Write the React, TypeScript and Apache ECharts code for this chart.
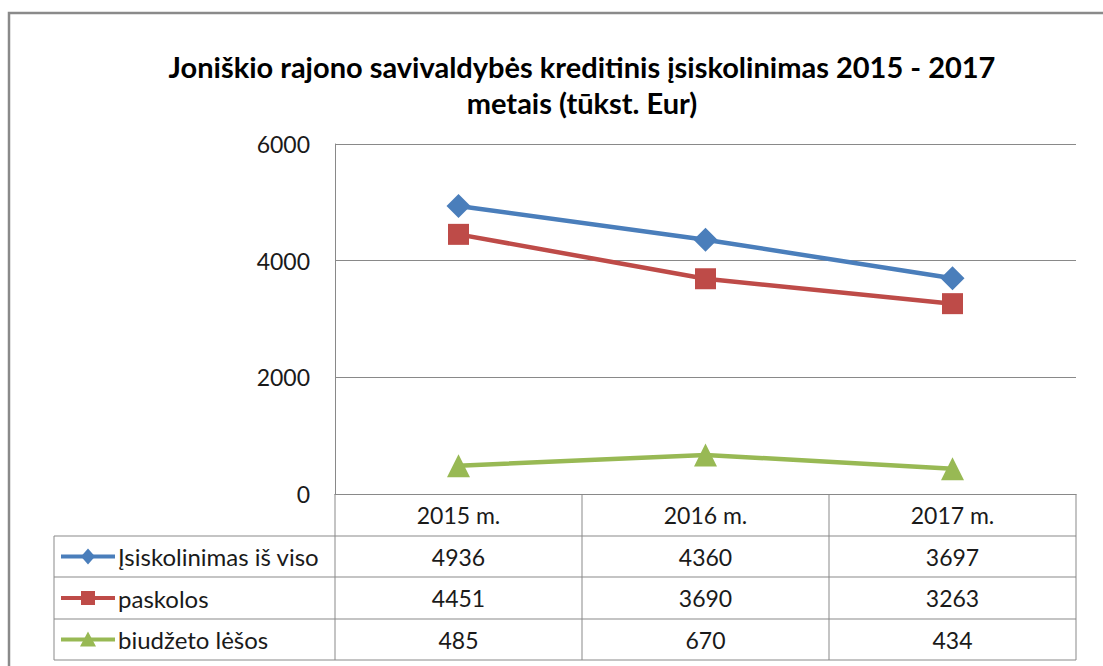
import React, { useEffect, useRef } from "react";
import * as echarts from "echarts";

const categories = ["2015 m.", "2016 m.", "2017 m."];
const seriesNames = ["Įsiskolinimas iš viso", "paskolos", "biudžeto lėšos"];
const totalDebt = [4936, 4360, 3697];
const loans = [4451, 3690, 3263];
const budgetFunds = [485, 670, 434];
const seriesValues = [totalDebt, loans, budgetFunds];
const seriesColors = ["#4A7EBB", "#BE4B48", "#98B954"];
const seriesSymbols = ["diamond", "rect", "triangle"];
const symbolSizes = [24, 21, 23];
const titleLines = [
  "Joniškio rajono savivaldybės kreditinis įsiskolinimas 2015 - 2017",
  "metais (tūkst. Eur)",
];

const W = 1103;
const H = 666;
const GRID_L = 335;
const GRID_R = 1076;
const GRID_T = 144;
const GRID_B = 494;
const TABLE_L = 54;
const ROW_Y = [494, 536, 577, 619, 660];
const FONT = "Lato, 'Noto Sans', sans-serif";
const GRAY = "#898989";
const TEXT_SIZE = 23;

export default function App() {
  const ref = useRef<HTMLDivElement>(null);
  useEffect(() => {
    if (!ref.current) return;
    const chart = echarts.init(ref.current, null, { renderer: "svg" });
    const colW = (GRID_R - GRID_L) / categories.length;
    const graphics: any[] = [];
    graphics.push({
      type: "rect",
      shape: { x: 9, y: 13, width: 1110, height: 680 },
      style: { fill: "none", stroke: "#8a8a8a", lineWidth: 2.5 },
      silent: true,
    });
    for (let r = 1; r < ROW_Y.length; r++) {
      graphics.push({
        type: "line",
        shape: { x1: TABLE_L, y1: ROW_Y[r], x2: GRID_R, y2: ROW_Y[r] },
        style: { stroke: GRAY, lineWidth: 1 },
      });
    }
    graphics.push({
      type: "line",
      shape: { x1: TABLE_L, y1: ROW_Y[1], x2: TABLE_L, y2: ROW_Y[4] },
      style: { stroke: GRAY, lineWidth: 1 },
    });
    for (let c = 0; c <= categories.length; c++) {
      const x = Math.round(GRID_L + c * colW);
      graphics.push({
        type: "line",
        shape: { x1: x, y1: ROW_Y[0], x2: x, y2: ROW_Y[4] },
        style: { stroke: GRAY, lineWidth: 1 },
      });
    }
    seriesNames.forEach((name, i) => {
      const cy = (ROW_Y[i + 1] + ROW_Y[i + 2]) / 2;
      graphics.push({
        type: "line",
        shape: { x1: 61, y1: cy, x2: 115, y2: cy },
        style: { stroke: seriesColors[i], lineWidth: 4 },
      });
      const mx = 88;
      if (seriesSymbols[i] === "diamond") {
        graphics.push({
          type: "polygon",
          shape: { points: [[mx, cy - 8], [mx + 7, cy], [mx, cy + 8], [mx - 7, cy]] },
          style: { fill: seriesColors[i] },
        });
      } else if (seriesSymbols[i] === "rect") {
        graphics.push({
          type: "rect",
          shape: { x: mx - 7, y: cy - 7, width: 14, height: 14 },
          style: { fill: seriesColors[i] },
        });
      } else {
        graphics.push({
          type: "polygon",
          shape: { points: [[mx, cy - 8], [mx + 8, cy + 7], [mx - 8, cy + 7]] },
          style: { fill: seriesColors[i] },
        });
      }
      graphics.push({
        type: "text",
        x: 118,
        y: cy,
        style: {
          text: name,
          font: `${TEXT_SIZE + 1}px ${FONT}`,
          fill: "#1a1a1a",
          textVerticalAlign: "middle",
          textAlign: "left",
        },
      });
      seriesValues[i].forEach((v, j) => {
        graphics.push({
          type: "text",
          x: GRID_L + (j + 0.5) * colW,
          y: cy,
          style: {
            text: String(v),
            font: `${TEXT_SIZE}px ${FONT}`,
            fill: "#1a1a1a",
            textVerticalAlign: "middle",
            textAlign: "center",
          },
        });
      });
    });
    titleLines.forEach((t, i) => {
      graphics.push({
        type: "text",
        x: 582,
        y: 66 + i * 36,
        style: {
          text: t,
          font: `bold 29px ${FONT}`,
          fill: "#000",
          textAlign: "center",
          textVerticalAlign: "middle",
        },
      });
    });

    chart.setOption({
      animation: false,
      backgroundColor: "#fff",
      grid: { left: GRID_L, right: W - GRID_R, top: GRID_T, bottom: H - GRID_B },
      xAxis: {
        type: "category",
        data: categories,
        boundaryGap: true,
        axisLine: { show: true, lineStyle: { color: GRAY, width: 1 } },
        axisTick: { show: false },
        axisLabel: { color: "#1a1a1a", fontSize: TEXT_SIZE, fontFamily: FONT, margin: 9 },
      },
      yAxis: {
        type: "value",
        min: 0,
        max: 6000,
        interval: 2000,
        axisLine: { show: true, lineStyle: { color: GRAY, width: 1 } },
        axisTick: { show: false },
        splitLine: { show: true, lineStyle: { color: GRAY, width: 1 } },
        axisLabel: {
          color: "#1a1a1a",
          fontSize: TEXT_SIZE,
          fontFamily: FONT,
          margin: 25,
          formatter: (v: number) => String(v),
        },
      },
      series: seriesNames.map((name, i) => ({
        name,
        type: "line",
        data: seriesValues[i],
        symbol: seriesSymbols[i],
        symbolSize: symbolSizes[i],
        lineStyle: { color: seriesColors[i], width: 4.5 },
        itemStyle: { color: seriesColors[i] },
        z: 3 - i,
      })),
      graphic: graphics,
    });
    return () => chart.dispose();
  }, []);
  return (
    <div
      ref={ref}
      style={{ position: "fixed", left: 0, top: 0, width: W, height: H }}
    />
  );
}
